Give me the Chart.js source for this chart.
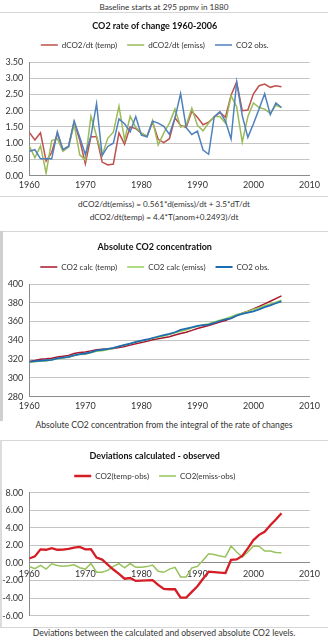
<!DOCTYPE html>
<html>
<head>
<meta charset="utf-8">
<script src="https://cdn.jsdelivr.net/npm/chart.js@4.4.1/dist/chart.umd.min.js"></script>
<style>
  html, body { margin: 0; padding: 0; background: #fff; }
  body { width: 328px; height: 640px; position: relative; overflow: hidden;
         font-family: Lato, "Open Sans", sans-serif; color: #333; }
  .txt { position: absolute; left: 0; width: 328px; text-align: center;
         font-size: 8.2px; line-height: 10px; white-space: nowrap; }
  .cap { font-size: 8.6px; }
  .wrap { position: absolute; left: 0; width: 328px; }
  .line { position: absolute; background: #d6d6d6; }
</style>
</head>
<body>
<div class="txt" style="top:2px">Baseline starts at 295 ppmv in 1880</div>
<div class="line" style="left:0;top:12px;width:328px;height:1px"></div>
<div class="wrap" style="top:12px;height:184px"><canvas id="rate" width="328" height="184"></canvas></div>
<div class="line" style="left:0;top:196px;width:328px;height:1px"></div>
<div class="txt" style="top:199px">dCO2/dt(emiss) = 0.561*d(emiss)/dt + 3.5*dT/dt</div>
<div class="txt" style="top:212px">dCO2/dt(temp) = 4.4*T(anom+0.2493)/dt</div>

<div class="line" style="left:0;top:231px;width:328px;height:1px"></div>
<div class="line" style="left:0;top:231px;width:3px;height:190px;background:#cfcfcf"></div>
<div class="wrap" style="top:232px;height:188px"><canvas id="abs" width="328" height="188"></canvas></div>
<div class="txt cap" style="top:420px">Absolute CO2 concentration from the integral of the rate of changes</div>

<div class="line" style="left:0;top:440px;width:328px;height:1px"></div>
<div class="line" style="left:0;top:440px;width:2px;height:188px;background:#dcdcdc"></div>
<div class="wrap" style="top:441px;height:186px"><canvas id="dev" width="328" height="186"></canvas></div>
<div class="line" style="left:0;top:627px;width:328px;height:1px"></div>
<div class="txt cap" style="top:628px">Deviations between the calculated and observed absolute CO2 levels.</div>

<script>
/* ── Données ── */
const years = [1960, 1961, 1962, 1963, 1964, 1965, 1966, 1967, 1968, 1969,
  1970, 1971, 1972, 1973, 1974, 1975, 1976, 1977, 1978, 1979,
  1980, 1981, 1982, 1983, 1984, 1985, 1986, 1987, 1988, 1989,
  1990, 1991, 1992, 1993, 1994, 1995, 1996, 1997, 1998, 1999,
  2000, 2001, 2002, 2003, 2004, 2005];
const xTicks = [1960, 1970, 1980, 1990, 2000, 2010];

/* taux de variation (ppmv/an) */
const rateTemp = [1.33, 1.10, 1.32, 0.45, 0.72, 1.30, 0.80, 0.90, 1.65, 1.10,
  0.37, 1.20, 1.20, 0.42, 0.33, 0.36, 1.32, 0.97, 1.50, 1.45,
  1.30, 1.22, 1.65, 1.12, 1.02, 1.14, 1.78, 1.55, 1.48, 1.98,
  1.80, 1.57, 1.65, 1.80, 1.95, 1.80, 2.48, 2.88, 2.00, 2.02,
  2.52, 2.77, 2.82, 2.72, 2.77, 2.74];
const rateEmiss = [0.92, 0.55, 0.92, 0.08, 1.08, 1.14, 0.75, 0.88, 1.58, 0.64,
  0.48, 1.83, 1.22, 0.62, 1.15, 1.34, 2.14, 1.10, 1.83, 1.48,
  1.32, 1.20, 1.70, 0.95, 1.32, 1.62, 2.05, 1.50, 1.55, 2.08,
  1.55, 1.38, 1.62, 1.82, 1.82, 1.62, 2.46, 2.12, 1.03, 1.82,
  2.24, 2.10, 2.05, 1.92, 2.17, 2.10];
const rateObs = [0.75, 0.80, 0.52, 0.52, 0.52, 1.35, 0.80, 0.90, 1.68, 1.18,
  0.65, 1.22, 2.22, 0.62, 0.90, 1.00, 1.75, 1.60, 1.35, 1.82,
  1.25, 1.20, 1.68, 1.62, 1.52, 1.27, 1.78, 2.53, 1.48, 1.27,
  1.37, 0.79, 0.66, 1.82, 1.97, 1.68, 1.13, 2.88, 1.85, 1.18,
  1.60, 2.05, 2.52, 1.88, 2.24, 2.10];

/* concentration absolue (ppmv) */
const absTemp = [317.5, 318.6, 319.9, 320.3, 321.0, 322.2, 323.0, 324.0, 325.9, 327.1,
  327.6, 328.8, 330.0, 330.4, 330.7, 331.2, 332.5, 333.5, 334.9, 336.4,
  337.7, 338.9, 340.6, 341.6, 342.7, 343.9, 345.6, 347.3, 348.7, 350.6,
  352.7, 354.3, 355.7, 357.6, 359.5, 361.2, 363.8, 366.7, 369.0, 371.1,
  373.5, 376.1, 378.9, 381.6, 384.5, 387.3];
const absEmiss = [316.6, 317.2, 318.0, 318.1, 319.2, 320.4, 321.1, 322.1, 323.9, 324.8,
  325.3, 327.1, 328.4, 329.0, 330.1, 331.5, 333.6, 334.8, 336.5, 337.9,
  339.2, 340.5, 342.3, 343.2, 344.5, 346.2, 348.1, 349.6, 351.0, 353.3,
  354.9, 356.4, 357.8, 359.6, 361.4, 363.0, 365.3, 367.6, 368.9, 370.7,
  372.8, 374.8, 376.8, 378.7, 380.7, 382.8];
const absObs = [317.0, 317.8, 318.3, 318.8, 319.3, 320.7, 321.5, 322.4, 324.1, 325.3,
  326.0, 327.2, 329.4, 330.0, 330.9, 331.9, 333.7, 335.3, 336.6, 338.4,
  339.7, 340.9, 342.5, 344.1, 345.6, 346.9, 348.6, 351.2, 352.6, 353.9,
  355.3, 356.1, 356.7, 358.6, 360.6, 362.3, 363.4, 366.3, 368.2, 369.4,
  370.9, 372.9, 375.4, 377.3, 379.5, 381.6];

/* écarts calculé - observé (ppmv) */
const devTemp = [0.50, 0.75, 1.55, 1.50, 1.68, 1.50, 1.52, 1.60, 1.75, 1.82,
  1.55, 1.58, 0.60, 0.38, -0.20, -0.75, -1.25, -1.80, -1.72, -2.05,
  -2.02, -1.98, -1.95, -2.50, -2.95, -3.00, -3.00, -3.95, -3.95, -3.30,
  -2.65, -1.80, -1.00, -1.05, -1.10, -1.15, 0.35, 0.40, 0.80, 1.65,
  2.60, 3.20, 3.55, 4.30, 4.95, 5.65];
const devEmiss = [-0.40, -0.65, -0.28, -0.70, -0.10, -0.30, -0.38, -0.32, -0.22, -0.55,
  -0.70, -0.07, -1.05, -1.05, -0.85, -0.40, -0.07, -0.55, -0.07, -0.50,
  -0.50, -0.42, -0.25, -0.95, -1.07, -0.70, -0.50, -1.60, -1.60, -0.57,
  -0.40, 0.30, 1.05, 0.95, 0.80, 0.68, 1.92, 1.25, 0.68, 1.25,
  1.92, 1.90, 1.36, 1.36, 1.20, 1.17];

const pts = (vals) => years.map((yr, i) => ({ x: yr, y: vals[i] }));

Chart.defaults.font.family = "Lato, 'Open Sans', sans-serif";
Chart.defaults.color = "#333";
Chart.defaults.animation = false;

/* espace entre la légende et le graphique */
const legendGap = {
  id: "legendGap",
  beforeInit(chart, args, opts) {
    const fit = chart.legend.fit;
    const extra = opts.extra || 0;
    chart.legend.fit = function () {
      fit.bind(chart.legend)();
      this.height += extra;
    };
  },
};

function serie(label, vals, color, width, order) {
  return {
    label,
    data: pts(vals),
    borderColor: color,
    backgroundColor: color,
    borderWidth: width,
    pointRadius: 0,
    fill: false,
    tension: 0,
    order,
  };
}

function makeChart(id, datasets, cfg) {
  return new Chart(document.getElementById(id), {
    type: "line",
    data: { datasets },
    plugins: [legendGap],
    options: {
      responsive: false,
      layout: { padding: { top: 0, left: 0, right: 18.5, bottom: cfg.padBottom } },
      plugins: {
        legendGap: { extra: cfg.legendExtra },
        title: {
          display: true,
          text: cfg.title,
          color: "#111",
          font: { size: 9, weight: "bold", lineHeight: 1 },
          padding: { top: cfg.titleTop, bottom: cfg.titleBottom },
        },
        legend: {
          labels: {
            boxWidth: 17,
            boxHeight: 0,
            padding: 10,
            color: "#333",
            font: { size: 8 },
            sort: (a, b) => a.datasetIndex - b.datasetIndex,
          },
        },
        tooltip: { enabled: false },
      },
      scales: {
        x: {
          type: "linear",
          min: 1960,
          max: 2010,
          position: cfg.xAtZero ? { y: 0 } : "bottom",
          afterBuildTicks: (s) => { s.ticks = xTicks.map((v) => ({ value: v })); },
          ticks: { padding: cfg.xPad, font: { size: 9 }, color: "#333", callback: (v) => String(v), maxRotation: 0 },
          grid: { display: false, drawTicks: false },
          border: { display: true, color: "#8c8c8c" },
        },
        y: {
          min: cfg.yMin,
          max: cfg.yMax,
          afterFit: (s) => { s.width = 29.3; },
          ticks: { stepSize: cfg.yStep, padding: 6, font: { size: 9 }, color: "#333", callback: cfg.yFmt },
          grid: { color: "#c4c4c4", drawTicks: false },
          border: { display: true, color: "#8c8c8c" },
        },
      },
    },
  });
}

makeChart("rate", [
  serie("dCO2/dt (temp)", rateTemp, "#c0504d", 1.5, 2),
  serie("dCO2/dt (emiss)", rateEmiss, "#9bbb59", 1.5, 1),
  serie("CO2 obs.", rateObs, "#4f81bd", 1.5, 0),
], {
  title: "CO2 rate of change 1960-2006",
  titleTop: 9.7, titleBottom: 0.3, legendExtra: 3,
  padBottom: 1.5, xPad: 4,
  yMin: 0, yMax: 3.5, yStep: 0.5, yFmt: (v) => v.toFixed(2),
});

makeChart("abs", [
  serie("CO2 calc (temp)", absTemp, "#a8172d", 1.5, 2),
  serie("CO2 calc (emiss)", absEmiss, "#96cf5a", 1.5, 1),
  serie("CO2 obs.", absObs, "#1f6db0", 1.8, 0),
], {
  title: "Absolute CO2 concentration",
  titleTop: 10.5, titleBottom: 1.5, legendExtra: 3,
  padBottom: 4.5, xPad: 4,
  yMin: 280, yMax: 400, yStep: 20, yFmt: (v) => String(v),
});

makeChart("dev", [
  serie("CO2(temp-obs)", devTemp, "#d41d24", 2.3, 0),
  serie("CO2(emiss-obs)", devEmiss, "#98c35c", 1.5, 1),
], {
  title: "Deviations calculated - observed",
  titleTop: 10.5, titleBottom: 1.5, legendExtra: 2.7,
  padBottom: 9.3, xPad: 5.3, xAtZero: true,
  yMin: -6, yMax: 8, yStep: 2, yFmt: (v) => v.toFixed(2),
});
</script>
</body>
</html>
